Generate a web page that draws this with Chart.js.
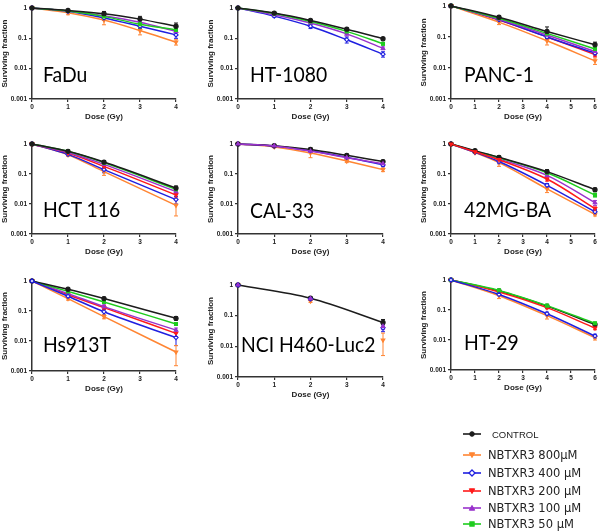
<!DOCTYPE html>
<html><head><meta charset="utf-8">
<script src="https://cdn.jsdelivr.net/npm/chart.js@4/dist/chart.umd.min.js"></script>
<style>
html,body{margin:0;padding:0;background:#fff;}
body{width:600px;height:532px;overflow:hidden;position:relative;font-family:'Liberation Sans',Arial,sans-serif}
canvas{position:absolute}
.name{position:absolute;font-family:'Lato',sans-serif;font-size:22px;line-height:22px;color:#000;white-space:nowrap;transform:scaleX(0.88);transform-origin:0 0}
.row{position:absolute;left:462px;height:14px;display:flex;align-items:center;white-space:nowrap;color:#222}
.row svg{width:20px;height:10px;margin-right:6px}
.row span{font-family:'DejaVu Sans',sans-serif;font-size:11.5px}
.row span.ctl{font-family:'Liberation Sans',Arial,sans-serif;font-size:9.5px;margin-left:4px}
</style></head>
<body>
<script>
// ---------------- data ----------------
const seriesLabels = ["CONTROL","NBTXR3 800µM","NBTXR3 400 µM","NBTXR3 200 µM","NBTXR3 100 µM","NBTXR3 50 µM"];
const cellLines = ["FaDu","HT-1080","PANC-1","HCT 116","CAL-33","42MG-BA","Hs913T","NCI H460-Luc2","HT-29"];
const yTicks = [0.001, 0.01, 0.1, 1];

// FaDu
const fadu_doses = [0,1,2,3,4];
const fadu_control = [1,0.83,0.65,0.43,0.25];      const fadu_control_err = [0,0.05,0.12,0.1,0.07];
const fadu_800 = [1,0.7,0.4,0.18,0.075];           const fadu_800_err = [0,0.1,0.12,0.05,0.015];
const fadu_400 = [1,0.78,0.47,0.25,0.13];          const fadu_400_err = [0,0.05,0.08,0.05,0.03];
const fadu_100 = [1,0.8,0.56,0.34,0.17];           const fadu_100_err = [0,0.03,0.05,0.04,0.02];
const fadu_50 = [1,0.8,0.53,0.29,0.19];            const fadu_50_err = [0,0.05,0.1,0.08,0.06];

// HT-1080
const ht1080_doses = [0,1,2,3,4];
const ht1080_control = [1,0.68,0.39,0.2,0.097];    const ht1080_control_err = [0,0.03,0.03,0.02,0.008];
const ht1080_400 = [1,0.54,0.25,0.09,0.03];        const ht1080_400_err = [0,0.04,0.04,0.02,0.006];
const ht1080_100 = [1,0.6,0.32,0.14,0.047];        const ht1080_100_err = [0,0.03,0.03,0.02,0.005];
const ht1080_50 = [1,0.66,0.36,0.17,0.066];        const ht1080_50_err = [0,0.03,0.03,0.02,0.006];

// PANC-1
const panc1_doses = [0,2,4,6];
const panc1_control = [1,0.43,0.15,0.056];         const panc1_control_err = [0,0.05,0.06,0.012];
const panc1_800 = [1,0.3,0.075,0.017];             const panc1_800_err = [0,0.05,0.02,0.004];
const panc1_400 = [1,0.36,0.1,0.03];               const panc1_400_err = [0,0.03,0.02,0.004];
const panc1_200 = [1,0.35,0.1,0.027];              const panc1_200_err = [0,0.03,0.02,0.004];
const panc1_100 = [1,0.37,0.115,0.034];            const panc1_100_err = [0,0.03,0.02,0.004];
const panc1_50 = [1,0.4,0.13,0.041];               const panc1_50_err = [0,0.03,0.02,0.005];

// HCT 116
const hct116_doses = [0,1,2,4];
const hct116_control = [1,0.57,0.25,0.034];        const hct116_control_err = [0,0.05,0.03,0.006];
const hct116_800 = [1,0.44,0.12,0.009];            const hct116_800_err = [0,0.05,0.03,0.005];
const hct116_400 = [1,0.45,0.14,0.014];            const hct116_400_err = [0,0.04,0.03,0.004];
const hct116_200 = [1,0.5,0.18,0.02];              const hct116_200_err = [0,0.03,0.02,0.003];
const hct116_100 = [1,0.52,0.21,0.026];            const hct116_100_err = [0,0.03,0.02,0.003];
const hct116_50 = [1,0.57,0.24,0.031];             const hct116_50_err = [0,0.03,0.02,0.004];

// CAL-33
const cal33_doses = [0,1,2,3,4];
const cal33_control = [1,0.88,0.66,0.42,0.26];     const cal33_control_err = [0,0.03,0.08,0.04,0.03];
const cal33_800 = [1,0.8,0.5,0.27,0.14];           const cal33_800_err = [0,0.05,0.15,0.03,0.02];
const cal33_400 = [1,0.85,0.6,0.36,0.2];           const cal33_400_err = [0,0.03,0.05,0.03,0.02];
const cal33_100 = [1,0.86,0.58,0.35,0.22];         const cal33_100_err = [0,0.03,0.05,0.03,0.03];

// 42MG-BA
const mg42_doses = [0,1,2,4,6];
const mg42_control = [1,0.6,0.36,0.12,0.03];       const mg42_control_err = [0,0.05,0.04,0.02,0.004];
const mg42_800 = [1,0.52,0.24,0.032,0.0045];       const mg42_800_err = [0,0.04,0.06,0.008,0.0005];
const mg42_400 = [1,0.53,0.26,0.042,0.0055];       const mg42_400_err = [0,0.04,0.04,0.006,0.001];
const mg42_200 = [1,0.55,0.3,0.068,0.007];         const mg42_200_err = [0,0.04,0.04,0.01,0.001];
const mg42_100 = [1,0.56,0.32,0.09,0.011];         const mg42_100_err = [0,0.04,0.04,0.01,0.002];
const mg42_50 = [1,0.58,0.35,0.11,0.02];           const mg42_50_err = [0,0.04,0.04,0.01,0.003];

// Hs913T
const hs913t_doses = [0,1,2,4];
const hs913t_control = [1,0.53,0.26,0.057];        const hs913t_control_err = [0,0.04,0.03,0.008];
const hs913t_800 = [1,0.26,0.065,0.0043];          const hs913t_800_err = [0,0.03,0.01,0.0028];
const hs913t_400 = [1,0.31,0.094,0.013];           const hs913t_400_err = [0,0.04,0.02,0.006];
const hs913t_200 = [1,0.35,0.13,0.018];            const hs913t_200_err = [0,0.03,0.02,0.004];
const hs913t_100 = [1,0.38,0.14,0.023];            const hs913t_100_err = [0,0.03,0.02,0.004];
const hs913t_50 = [1,0.45,0.2,0.037];              const hs913t_50_err = [0,0.03,0.02,0.004];

// NCI H460-Luc2
const nci_doses = [0,2,4];
const nci_control = [1,0.37,0.06];                 const nci_control_err = [0,0.03,0.015];
const nci_800 = [1,0.3,0.016];                     const nci_800_err = [0,0.03,0.011];
const nci_400 = [1,0.35,0.04];                     const nci_400_err = [0,0.03,0.01];
const nci_100 = [1,0.36,0.045];                    const nci_100_err = [0,0.03,0.01];

// HT-29
const ht29_doses = [0,2,4,6];
const ht29_control = [1,0.43,0.135,0.033];         const ht29_control_err = [0,0.03,0.01,0.003];
const ht29_800 = [1,0.3,0.065,0.012];              const ht29_800_err = [0,0.06,0.015,0.002];
const ht29_400 = [1,0.33,0.075,0.0136];            const ht29_400_err = [0,0.03,0.01,0.002];
const ht29_200 = [1,0.4,0.12,0.025];               const ht29_200_err = [0,0.03,0.01,0.003];
const ht29_50 = [1,0.45,0.14,0.036];               const ht29_50_err = [0,0.03,0.01,0.003];

// ---------------- styles ----------------
const STY = {
  control:{label:seriesLabels[0], color:'#1c1c1c', bg:'#1c1c1c', ps:'circle', rot:0},
  s800:{label:seriesLabels[1], color:'#ff8533', bg:'#ff8533', ps:'triangle', rot:180},
  s400:{label:seriesLabels[2], color:'#1f1fe0', bg:'#ffffff', ps:'rectRot', rot:0},
  s200:{label:seriesLabels[3], color:'#ff1a1a', bg:'#ff1a1a', ps:'triangle', rot:180},
  s100:{label:seriesLabels[4], color:'#9932cc', bg:'#9932cc', ps:'triangle', rot:0},
  s50:{label:seriesLabels[5], color:'#1fcc1f', bg:'#1fcc1f', ps:'rect', rot:0}
};

function ds(key, doses, vals, errs, showLine=true){
  const s = STY[key];
  return {label:s.label, data:doses.map((d,i)=>({x:d,y:vals[i]})), errors:errs,
    borderColor:s.color, backgroundColor:s.bg, pointBackgroundColor:s.bg, pointBorderColor:s.color,
    pointStyle:s.ps, rotation:s.rot, pointRadius:2.1, pointBorderWidth:1.1, borderWidth:1.5,
    showLine:showLine, cubicInterpolationMode:'monotone', clip:10};
}

const panels = [
  {name:cellLines[0], L:32,R:176,T:8,B:99, xmax:4, nameX:43,nameY:82, sets:[
    ds('control',fadu_doses,fadu_control,fadu_control_err), ds('s50',fadu_doses,fadu_50,fadu_50_err),
    ds('s100',fadu_doses,fadu_100,fadu_100_err), ds('s400',fadu_doses,fadu_400,fadu_400_err),
    ds('s800',fadu_doses,fadu_800,fadu_800_err)]},
  {name:cellLines[1], L:238,R:383,T:8,B:99, xmax:4, nameX:250,nameY:82, sets:[
    ds('control',ht1080_doses,ht1080_control,ht1080_control_err), ds('s50',ht1080_doses,ht1080_50,ht1080_50_err),
    ds('s100',ht1080_doses,ht1080_100,ht1080_100_err), ds('s400',ht1080_doses,ht1080_400,ht1080_400_err)]},
  {name:cellLines[2], L:451,R:595,T:4,B:99, xmax:6, nameX:464,nameY:82, sets:[
    ds('control',panc1_doses,panc1_control,panc1_control_err), ds('s50',panc1_doses,panc1_50,panc1_50_err),
    ds('s100',panc1_doses,panc1_100,panc1_100_err), ds('s400',panc1_doses,panc1_400,panc1_400_err),
    ds('s800',panc1_doses,panc1_800,panc1_800_err), ds('s200',panc1_doses,panc1_200,panc1_200_err)]},
  {name:cellLines[3], L:32,R:176,T:144,B:234, xmax:4, nameX:43,nameY:217, sets:[
    ds('control',hct116_doses,hct116_control,hct116_control_err), ds('s50',hct116_doses,hct116_50,hct116_50_err),
    ds('s100',hct116_doses,hct116_100,hct116_100_err), ds('s200',hct116_doses,hct116_200,hct116_200_err),
    ds('s400',hct116_doses,hct116_400,hct116_400_err), ds('s800',hct116_doses,hct116_800,hct116_800_err)]},
  {name:cellLines[4], L:238,R:383,T:144,B:234, xmax:4, nameX:250,nameY:218, sets:[
    ds('s100',cal33_doses,cal33_100,cal33_100_err), ds('control',cal33_doses,cal33_control,cal33_control_err),
    ds('s400',cal33_doses,cal33_400,cal33_400_err), ds('s800',cal33_doses,cal33_800,cal33_800_err)]},
  {name:cellLines[5], L:451,R:595,T:144,B:234, xmax:6, nameX:464,nameY:217, sets:[
    ds('s200',mg42_doses,mg42_200,mg42_200_err), ds('control',mg42_doses,mg42_control,mg42_control_err),
    ds('s50',mg42_doses,mg42_50,mg42_50_err), ds('s100',mg42_doses,mg42_100,mg42_100_err),
    ds('s400',mg42_doses,mg42_400,mg42_400_err), ds('s800',mg42_doses,mg42_800,mg42_800_err)]},
  {name:cellLines[6], L:32,R:176,T:281,B:371, xmax:4, nameX:43,nameY:352, sets:[
    ds('s400',hs913t_doses,hs913t_400,hs913t_400_err), ds('control',hs913t_doses,hs913t_control,hs913t_control_err),
    ds('s50',hs913t_doses,hs913t_50,hs913t_50_err), ds('s100',hs913t_doses,hs913t_100,hs913t_100_err),
    ds('s200',hs913t_doses,hs913t_200,hs913t_200_err), ds('s800',hs913t_doses,hs913t_800,hs913t_800_err)]},
  {name:cellLines[7], L:238,R:383,T:285,B:377, xmax:4, nameX:241,nameY:352, sets:[
    ds('s100',nci_doses,nci_100,nci_100_err,false), ds('s400',nci_doses,nci_400,nci_400_err,false),
    ds('control',nci_doses,nci_control,nci_control_err), ds('s800',nci_doses,nci_800,nci_800_err,false)]},
  {name:cellLines[8], L:451,R:595,T:280,B:370, xmax:6, nameX:464,nameY:350, sets:[
    ds('s400',ht29_doses,ht29_400,ht29_400_err), ds('s50',ht29_doses,ht29_50,ht29_50_err),
    ds('s200',ht29_doses,ht29_200,ht29_200_err), ds('control',ht29_doses,ht29_control,ht29_control_err),
    ds('s800',ht29_doses,ht29_800,ht29_800_err)]}
];

// ---------------- error bars plugin ----------------
const errorBars = {
  id:'errorBars',
  beforeDatasetsDraw(chart){
    const {ctx, scales:{x,y}} = chart;
    chart.data.datasets.forEach(d=>{
      if(!d.errors) return;
      ctx.save(); ctx.strokeStyle=d.borderColor; ctx.lineWidth=1;
      d.data.forEach((p,i)=>{
        const e=d.errors[i]; if(!e) return;
        const px=x.getPixelForValue(p.x);
        const y1=y.getPixelForValue(p.y+e);
        const y2=y.getPixelForValue(Math.max(p.y-e,0.0009));
        ctx.beginPath();
        ctx.moveTo(px,y1);ctx.lineTo(px,y2);
        ctx.moveTo(px-2,y1);ctx.lineTo(px+2,y1);
        ctx.moveTo(px-2,y2);ctx.lineTo(px+2,y2);
        ctx.stroke();
      });
      ctx.restore();
    });
  }
};

Chart.defaults.font.family = "'Liberation Sans', Arial, sans-serif";
const AX = '#333';

panels.forEach(p=>{
  const padTop = Math.min(8, p.T);
  const padRight = 14, yW = 32, xH = 26;
  const c = document.createElement('canvas');
  const w = (p.R-p.L)+yW+padRight, h = (p.B-p.T)+padTop+xH;
  c.width=w; c.height=h;
  c.style.left=(p.L-yW)+'px'; c.style.top=(p.T-padTop)+'px';
  c.style.width=w+'px'; c.style.height=h+'px';
  document.body.appendChild(c);
  new Chart(c,{
    type:'line',
    data:{datasets:p.sets},
    plugins:[errorBars],
    options:{
      responsive:false, animation:false, devicePixelRatio:1,
      layout:{padding:{left:0,top:padTop,right:padRight,bottom:0}},
      plugins:{legend:{display:false},tooltip:{enabled:false}},
      scales:{
        x:{type:'linear', min:0, max:p.xmax,
          ticks:{stepSize:1, font:{size:6.5,weight:'bold'}, color:'#222', padding:1, maxRotation:0},
          grid:{drawOnChartArea:false, drawTicks:true, tickLength:3, color:AX, lineWidth:1.2},
          border:{display:true, color:AX, width:1.5},
          title:{display:true, text:'Dose (Gy)', font:{size:8,weight:'bold'}, color:'#222', padding:{top:0,bottom:3}},
          afterFit:s=>{s.height=xH;}
        },
        y:{type:'logarithmic', min:0.001, max:1,
          afterBuildTicks:s=>{s.ticks=yTicks.map(v=>({value:v}));},
          ticks:{callback:v=>String(v), font:{size:6.5,weight:'bold'}, color:'#222', padding:2, autoSkip:false},
          grid:{drawOnChartArea:false, drawTicks:true, tickLength:3, color:AX, lineWidth:1.2},
          border:{display:true, color:AX, width:1.5},
          title:{display:true, text:'Surviving fraction', font:{size:8,weight:'bold'}, color:'#222', padding:{top:0,bottom:0}},
          afterFit:s=>{s.width=yW;}
        }
      }
    }
  });
  const n=document.createElement('div');
  n.className='name'; n.textContent=p.name;
  n.style.left=p.nameX+'px'; n.style.top=(p.nameY-19.5)+'px';
  document.body.appendChild(n);
});

// ---------------- legend ----------------
const legendKeys = ['control','s800','s400','s200','s100','s50'];
const legendY = [434,455,473,491,508,524];
legendKeys.forEach((k,i)=>{
  const s=STY[k];
  const r=document.createElement('div'); r.className='row'; r.style.top=(legendY[i]-7)+'px';
  let mk='';
  if(s.ps==='circle') mk=`<circle cx="10" cy="5" r="2.3" fill="${s.bg}" stroke="${s.color}"/>`;
  else if(s.ps==='rect') mk=`<rect x="7.8" y="2.8" width="4.4" height="4.4" fill="${s.bg}" stroke="${s.color}"/>`;
  else if(s.ps==='rectRot') mk=`<polygon points="10,2 13,5 10,8 7,5" fill="${s.bg}" stroke="${s.color}" stroke-width="1.3"/>`;
  else if(s.rot===180) mk=`<polygon points="7.3,2.8 12.7,2.8 10,7.6" fill="${s.bg}" stroke="${s.color}"/>`;
  else mk=`<polygon points="7.3,7.2 12.7,7.2 10,2.4" fill="${s.bg}" stroke="${s.color}"/>`;
  r.innerHTML=`<svg viewBox="0 0 20 10"><line x1="1" y1="5" x2="19" y2="5" stroke="${s.color}" stroke-width="1.6"/>${mk}</svg><span class="${k==='control'?'ctl':''}">${s.label}</span>`;
  document.body.appendChild(r);
});
</script>
</body></html>
